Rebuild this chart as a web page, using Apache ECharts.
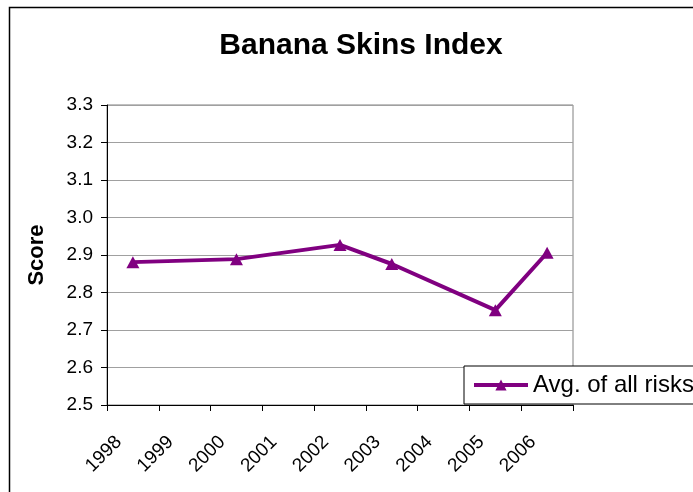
<!DOCTYPE html>
<html>
<head>
<meta charset="utf-8">
<script src="https://cdn.jsdelivr.net/npm/echarts@6/dist/echarts.min.js"></script>
<style>
  html, body { margin: 0; padding: 0; background: #fff; }
  #chart { width: 693px; height: 492px; }
</style>
</head>
<body>
<div id="chart"></div>
<script>
// Survey years on the category axis
const years = ['1998', '1999', '2000', '2001', '2002', '2003', '2004', '2005', '2006'];
// Average score of all risks per survey year (no survey in 1999, 2001, 2004)
const avgAllRisks = [2.881, null, 2.889, null, 2.927, 2.876, null, 2.753, 2.906];
// Score axis range
const scoreMin = 2.5;
const scoreMax = 3.3;
const scoreStep = 0.1;

const FONT = '"Liberation Sans", Arial, sans-serif';
const chart = echarts.init(document.getElementById('chart'), null, { renderer: 'canvas' });

chart.setOption({
  backgroundColor: '#ffffff',
  animation: false,
  title: {
    text: 'Banana Skins Index',
    left: 356,
    top: 26,
    textAlign: 'center',
    textStyle: { fontFamily: FONT, fontSize: 30, fontWeight: 'bold', color: '#000' }
  },
  graphic: [{
    type: 'rect',
    shape: { x: 9.5, y: 7.5, width: 720, height: 520 },
    style: { fill: 'none', stroke: '#000', lineWidth: 1.5 },
    silent: true,
    z: -1
  }],
  grid: {
    left: 107, right: 120, top: 105, bottom: 87,
    show: true, borderColor: '#808080', borderWidth: 1, backgroundColor: 'transparent'
  },
  legend: {
    data: ['Avg. of all risks'],
    left: 464, top: 366,
    backgroundColor: '#fff',
    borderColor: '#000', borderWidth: 1, borderRadius: 0,
    padding: [7, 20, 7, 8],
    itemWidth: 54, itemHeight: 14, itemGap: 3,
    lineStyle: { width: 4 },
    textStyle: { fontFamily: FONT, fontSize: 24, color: '#000' }
  },
  xAxis: {
    type: 'category',
    data: years,
    boundaryGap: true,
    axisLine: { lineStyle: { color: '#000', width: 1 } },
    axisTick: { show: true, alignWithLabel: false, length: 6, lineStyle: { color: '#000' } },
    axisLabel: {
      rotate: 45, margin: 20, interval: 0,
      padding: [0, 20, 0, 0],
      fontFamily: FONT, fontSize: 19, color: '#000'
    },
    splitLine: { show: false }
  },
  yAxis: {
    type: 'value',
    min: scoreMin, max: scoreMax, interval: scoreStep,
    name: 'Score',
    nameLocation: 'middle',
    nameGap: 59,
    nameRotate: 90,
    nameTextStyle: { fontFamily: FONT, fontSize: 22, fontWeight: 'bold', color: '#000' },
    axisLine: { show: true, lineStyle: { color: '#000', width: 1 } },
    axisTick: { show: true, length: 6, lineStyle: { color: '#000' } },
    axisLabel: {
      margin: 14,
      fontFamily: FONT, fontSize: 19, color: '#000',
      formatter: v => v.toFixed(1)
    },
    splitLine: { show: true, lineStyle: { color: '#a0a0a0', width: 1 } }
  },
  series: [{
    name: 'Avg. of all risks',
    type: 'line',
    data: avgAllRisks,
    connectNulls: true,
    color: '#800080',
    lineStyle: { color: '#800080', width: 4 },
    itemStyle: { color: '#800080' },
    symbol: 'triangle',
    symbolSize: [13, 12],
    showSymbol: true
  }]
});
</script>
</body>
</html>
